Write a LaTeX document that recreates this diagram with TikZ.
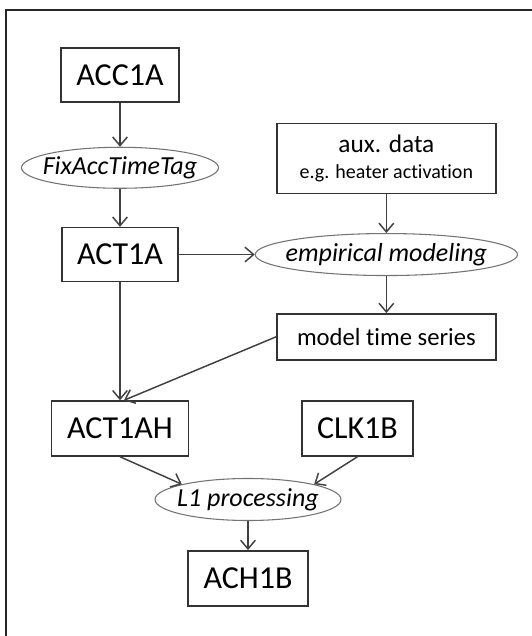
\documentclass[tikz,border=0pt]{standalone}
\usepackage{fontspec}
\setmainfont{Carlito}[RawFeature={-liga,-clig,-dlig,-rlig,-calt}]
\usetikzlibrary{shapes.geometric, arrows.meta, positioning, calc}

\begin{document}
\begin{tikzpicture}[
        product/.style={rectangle, draw=black!80, line width=1.1pt, align=center, inner sep=2pt, font=\fontsize{24}{28}\selectfont},
        procstep/.style={ellipse, draw=black!55, line width=0.8pt, inner xsep=-6pt, inner ysep=0pt, font=\fontsize{19.5}{22}\selectfont\itshape},
        flow/.style={-{Straight Barb[length=6.5pt, width=11pt]}, draw=black!75, line width=1.1pt}
    ]
    % frame
    \useasboundingbox (-90pt,56.25pt) rectangle (309pt,-420.75pt);

    % Level 1A chain
    \node[product, minimum width=88.5pt, minimum height=40.5pt] (acc1a) {ACC1A};
    \node[procstep, minimum width=147.75pt, minimum height=30.75pt, below=33pt of acc1a] (fixtag) {FixAccTimeTag};
    \node[product, minimum width=87pt, minimum height=40.5pt, below=28.5pt of fixtag] (act1a) {ACT1A};

    % Modeling branch
    \node[procstep, minimum width=186.75pt, minimum height=31.5pt, right=57pt of act1a] (model) {empirical modeling};
    \node[product, minimum width=164.25pt, minimum height=52.5pt, above=29.25pt of model, font=\fontsize{19}{21}\selectfont] (aux) {aux. data\\[-1pt]{\fontsize{15}{17}\selectfont e.g. heater activation}};
    \node[product, minimum width=164.25pt, minimum height=34.5pt, below=27.75pt of model, font=\fontsize{18.5}{21}\selectfont] (series) {model time series};

    % Level 1B
    \node[product, minimum width=102.75pt, minimum height=41.25pt, below=88.5pt of act1a] (act1ah) {ACT1AH};
    \node[product, minimum width=83.25pt, minimum height=41.25pt, right=84pt of act1ah] (clk1b) {CLK1B};
    \node[procstep, minimum width=139.5pt, minimum height=31.5pt] (l1proc) at ($(act1ah)+(96pt,-53.25pt)$) {L1 processing};
    \node[product, minimum width=90pt, minimum height=41.25pt, below=21.75pt of l1proc] (ach1b) {ACH1B};

    \draw[black!85, line width=1.1pt] (-85.5pt,-420.75pt) -- (-85.5pt,48.75pt) -- (309pt,48.75pt);

    % Connections
    \draw[flow] (acc1a) -- (fixtag);
    \draw[flow] (fixtag) -- (act1a);
    \draw[flow] (act1a) -- (model);
    \draw[flow] (aux) -- (model);
    \draw[flow] (model) -- (series);
    \draw[flow] (act1a.south) -- (act1a.south |- act1ah.north);
    \draw[flow] (series.west) -- ([xshift=3pt]act1ah.north);
    \draw[flow] (act1ah.south) -- (l1proc.north west);
    \draw[flow] (clk1b.south) -- (l1proc.north east);
    \draw[flow] (l1proc) -- (ach1b);
\end{tikzpicture}
\end{document}
